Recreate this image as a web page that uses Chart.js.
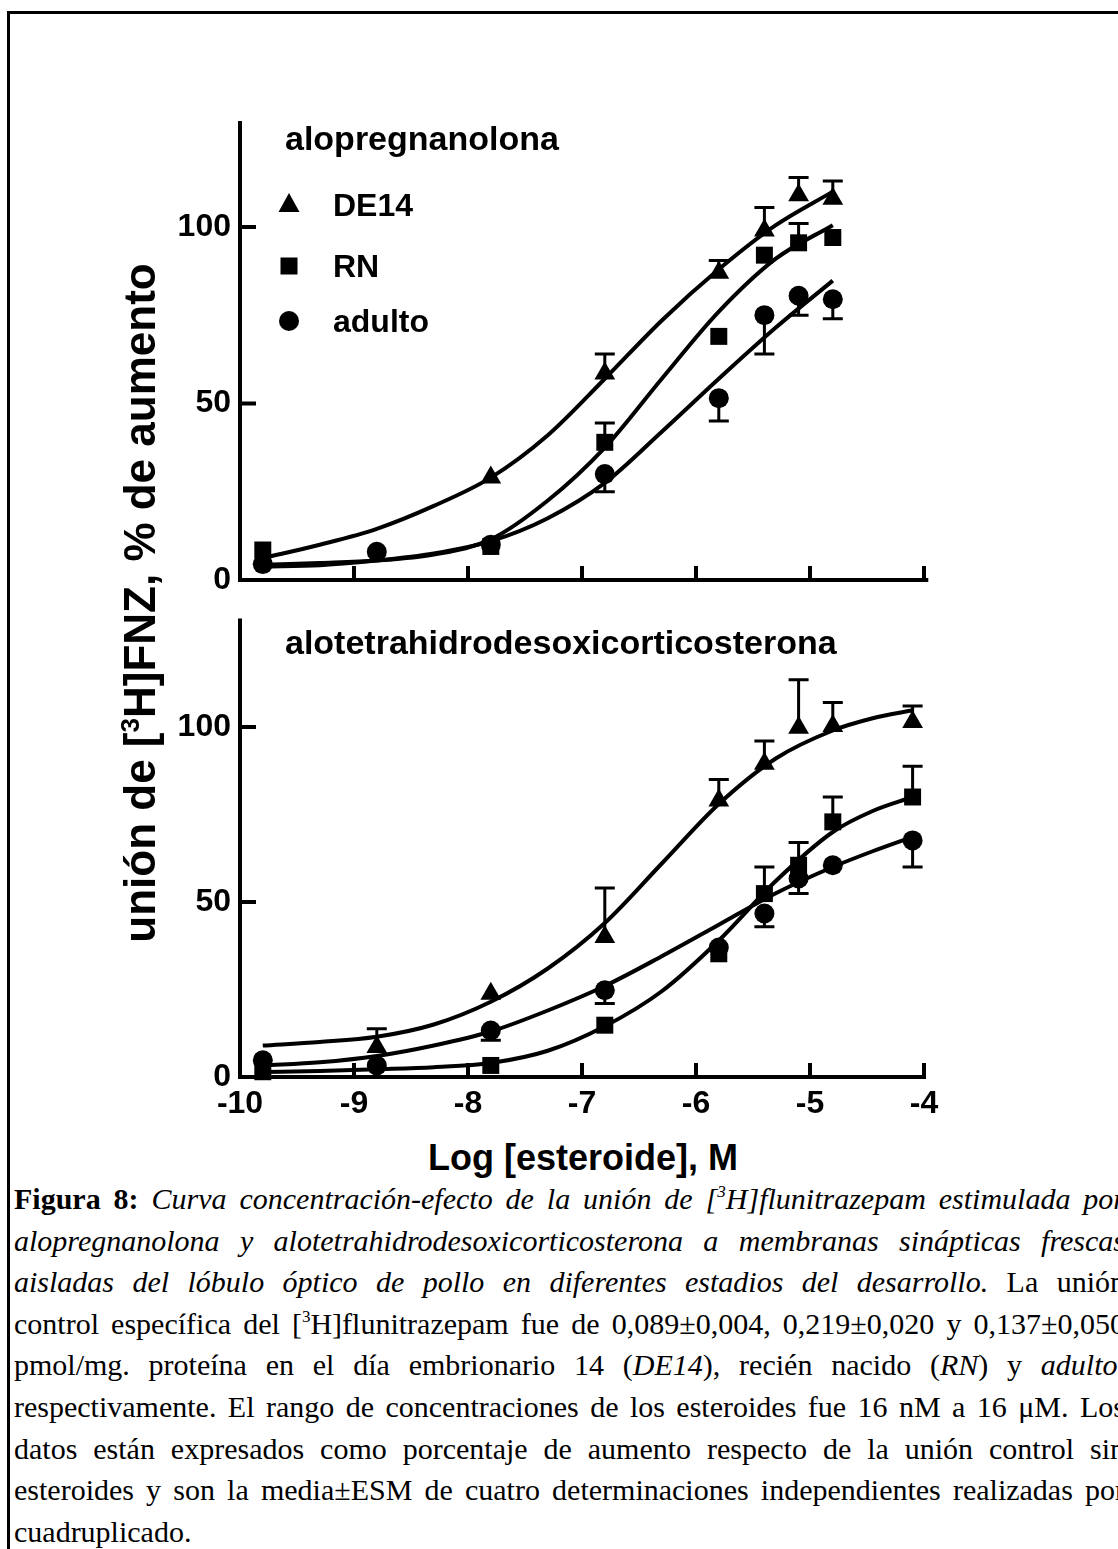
<!DOCTYPE html>
<html>
<head>
<meta charset="utf-8">
<script src="https://cdn.jsdelivr.net/npm/chart.js@4.4.0/dist/chart.umd.min.js"></script>
<style>
  html, body { margin: 0; padding: 0; background: #fff; }
  body { width: 1118px; height: 1549px; overflow: hidden; position: relative; font-family: "Liberation Sans", Arial, sans-serif; }
  #frame { position: absolute; left: 7px; top: 11px; width: 1300px; height: 1700px; border-left: 3px solid #000; border-top: 3px solid #000; }
  canvas { position: absolute; left: 100px; }
  #top { top: 90px; }
  #bot { top: 590px; }
  #ytitle { position: absolute; left: -260px; top: 578px; width: 800px; height: 50px; line-height: 50px; text-align: center;
            transform: rotate(-90deg); font-weight: bold; font-size: 44px; white-space: nowrap; }
  #ytitle sup { font-size: 26px; vertical-align: 16px; line-height: 0; }
  #xtitle { position: absolute; left: 283px; top: 1137px; width: 600px; text-align: center; font-weight: bold; font-size: 36px; }
  #caption { position: absolute; left: 14px; top: 1178px; width: 1111px; font-family: "Liberation Serif", "Times New Roman", serif; font-size: 30px; }
  #caption div { height: 41.6px; line-height: 41.6px; white-space: nowrap; text-align: justify; text-align-last: justify; }
  #caption div.last { text-align-last: left; }
  #caption sup { font-size: 17px; vertical-align: 12px; line-height: 0; }
</style>
</head>
<body>
<div id="frame"></div>
<canvas id="top" width="900" height="520"></canvas>
<canvas id="bot" width="900" height="540"></canvas>
<div id="ytitle">unión de [<sup>3</sup>H]FNZ, % de aumento</div>
<div id="xtitle">Log [esteroide], M</div>
<div id="caption">
  <div><b>Figura 8:</b> <i>Curva concentración-efecto de la unión de [<sup>3</sup>H]flunitrazepam estimulada por</i></div>
  <div><i>alopregnanolona y alotetrahidrodesoxicorticosterona a membranas sinápticas frescas</i></div>
  <div><i>aisladas del lóbulo óptico de pollo en diferentes estadios del desarrollo.</i> La unión</div>
  <div>control específica del [<sup>3</sup>H]flunitrazepam fue de 0,089±0,004, 0,219±0,020 y 0,137±0,050</div>
  <div>pmol/mg. proteína en el día embrionario 14 (<i>DE14</i>), recién nacido (<i>RN</i>) y <i>adulto</i>,</div>
  <div>respectivamente. El rango de concentraciones de los esteroides fue 16 nM a 16 μM. Los</div>
  <div>datos están expresados como porcentaje de aumento respecto de la unión control sin</div>
  <div>esteroides y son la media±ESM de cuatro determinaciones independientes realizadas por</div>
  <div class="last">cuadruplicado.</div>
</div>
<script>
// log concentration of the points
const xTop = [-9.8, -8.8, -7.8, -6.8, -5.8, -5.4, -5.1, -4.8];
const xBot = [-9.8, -8.8, -7.8, -6.8, -5.8, -5.4, -5.1, -4.8, -4.1];

// alopregnanolona (top panel)
const de14Top = [6, null, 29, 58.5, 87, 99, 109, 108];
const de14TopErr = [0, 0, 0, 5.5, 3.5, 6.5, 5, 5];
const rnTop = [8.5, null, 9.5, 39, 69, 92, 95.5, 97];
const rnTopErr = [0, 0, 0, 5.5, 0, 0, 5.5, 0];
const adTop = [4.5, 8, 10, 30, 51.5, 75, 80.5, 79.5];
const adTopErr = [0, 0, 0, 5, 6.5, 11, 5.5, 5.5];

// alotetrahidrodesoxicorticosterona (bottom panel)
const de14Bot = [null, 8.6, 23.8, 40, 79, 89.5, 99.8, 100.3, 101.4];
const de14BotErr = [0, 5.2, 0, 14, 6, 6.5, 13.7, 6.7, 4.6];
const rnBot = [1.5, null, 3.3, 14.8, 35.2, 52.4, 60.5, 72.9, 80];
const rnBotErr = [0, 0, 0, 0, 0, 7.6, 6.5, 7.1, 8.8];
const adBot = [4.8, 3.3, 13.3, 24.8, 37, 46.7, 56.7, 60.5, 67.6];
const adBotErr = [0, 0, 2.8, 3.8, 0, 3.8, 4.3, 0, 7.6];

// fitted curves
const xFitTop = [-9.8, -9.3, -8.8, -8.3, -7.8, -7.3, -6.8, -6.3, -5.8, -5.3, -4.8];
const de14TopFit = [6.2, 10, 14.5, 21, 29, 41, 57, 73.5, 88, 100.5, 110];
const rnTopFit = [4.3, 4.8, 5.5, 7.2, 11.5, 22.5, 37.5, 57, 76, 91, 100.5];
const adTopFit = [3.8, 4.2, 5.5, 7.5, 11, 17.5, 27.5, 42, 57, 71.5, 84.8];

const xFitBot = [-9.8, -9.3, -8.8, -8.3, -7.8, -7.3, -6.8, -6.3, -5.8, -5.3, -4.8, -4.45, -4.1];
const de14BotFit = [9, 10, 11.5, 15, 21.5, 31, 44, 61, 78, 91, 99, 102.5, 104.8];
const rnBotFit = [1.4, 1.7, 2.2, 2.8, 4, 7.5, 14.5, 24.5, 39, 56, 70, 76, 80];
const adBotFit = [3.3, 4.2, 6, 9, 13, 19, 26, 34.5, 43.5, 52.5, 60, 64.5, 68.6];

const yTicks = [0, 50, 100];
const xTicks = [-10, -9, -8, -7, -6, -5, -4];
const seriesNames = ['DE14', 'RN', 'adulto'];

Chart.defaults.font.family = '"Liberation Sans", Arial, sans-serif';
Chart.defaults.font.weight = 'bold';
Chart.defaults.color = '#000';

function pts(xs, ys) {
  return xs.map((x, i) => ({x: x, y: ys[i]})).filter(p => p.y != null);
}

function marker(ctx, style, x, y) {
  ctx.beginPath();
  if (style === 'triangle') {
    ctx.moveTo(x, y - 12); ctx.lineTo(x + 10.5, y + 7); ctx.lineTo(x - 10.5, y + 7); ctx.closePath();
  } else if (style === 'rect') {
    ctx.rect(x - 8.5, y - 8.5, 17, 17);
  } else {
    ctx.arc(x, y, 10, 0, Math.PI * 2);
  }
  ctx.fill();
}

const panelPlugin = {
  id: 'panel',
  afterDatasetsDraw(chart, args, opts) {
    const ctx = chart.ctx, x = chart.scales.x, y = chart.scales.y;
    ctx.save();
    ctx.strokeStyle = '#000';
    ctx.fillStyle = '#000';
    ctx.lineCap = 'butt';
    // error bars (one-sided)
    ctx.lineWidth = 3;
    opts.bars.forEach(b => {
      b.x.forEach((xv, i) => {
        const v = b.y[i], e = b.err[i];
        if (v == null || !e) return;
        const px = x.getPixelForValue(xv);
        const p0 = y.getPixelForValue(v);
        const p1 = y.getPixelForValue(v + b.dir * e);
        ctx.beginPath();
        ctx.moveTo(px, p0); ctx.lineTo(px, p1);
        ctx.moveTo(px - 10, p1); ctx.lineTo(px + 10, p1);
        ctx.stroke();
      });
    });
    // axes
    const x0 = x.getPixelForValue(-10), y0 = y.getPixelForValue(0);
    const yTop = y.getPixelForValue(y.max);
    const xEnd = x.getPixelForValue(opts.xEnd);
    ctx.lineWidth = 4;
    ctx.beginPath();
    ctx.moveTo(x0, yTop); ctx.lineTo(x0, y0 + 2);
    ctx.moveTo(x0 - 2, y0); ctx.lineTo(xEnd + 2, y0);
    yTicks.slice(1).forEach(v => {
      const py = y.getPixelForValue(v);
      ctx.moveTo(x0 - 2, py); ctx.lineTo(x0 + 16, py);
    });
    xTicks.slice(1).forEach(v => {
      const px = x.getPixelForValue(v);
      ctx.moveTo(px, y0); ctx.lineTo(px, y0 - 14);
    });
    ctx.stroke();
    // panel title
    ctx.font = 'bold 34px "Liberation Sans", Arial, sans-serif';
    ctx.textBaseline = 'alphabetic';
    ctx.fillText(opts.title, x0 + 45, opts.titleY);
    // legend
    if (opts.legend) {
      const styles = ['triangle', 'rect', 'circle'];
      const rows = [115, 176, 231];
      ctx.font = 'bold 32px "Liberation Sans", Arial, sans-serif';
      ctx.textBaseline = 'middle';
      seriesNames.forEach((n, i) => {
        marker(ctx, styles[i], x0 + 49, rows[i]);
        ctx.fillText(n, x0 + 93, rows[i] + 2);
      });
    }
    ctx.restore();
  }
};

function makePanel(id, xs, fitX, sets, opts) {
  const styles = ['triangle', 'rect', 'circle'];
  const radii = [12, 12, 10];
  const datasets = [];
  sets.forEach((s, i) => {
    datasets.push({
      label: seriesNames[i],
      data: pts(xs, s.y),
      pointStyle: styles[i],
      pointRadius: radii[i],
      pointBackgroundColor: '#000',
      pointBorderColor: '#000',
      pointBorderWidth: 0,
      showLine: false,
      clip: false,
      order: 0
    });
    datasets.push({
      label: seriesNames[i] + ' ajuste',
      data: pts(fitX, s.fit),
      showLine: true,
      pointRadius: 0,
      borderColor: '#000',
      borderWidth: 4,
      cubicInterpolationMode: 'monotone',
      clip: false,
      order: 1
    });
  });
  return new Chart(id, {
    type: 'scatter',
    data: {datasets: datasets},
    options: {
      responsive: false,
      animation: false,
      layout: {padding: {top: opts.padTop, right: 76, left: 0, bottom: 0}},
      plugins: {
        legend: {display: false},
        tooltip: {enabled: false},
        panel: {
          bars: sets.map(s => ({x: xs, y: s.y, err: s.err, dir: s.dir})),
          xEnd: opts.xEnd,
          title: opts.title,
          titleY: opts.titleY,
          legend: opts.legend
        }
      },
      scales: {
        x: {
          type: 'linear', min: -10, max: -4,
          afterBuildTicks: s => { s.ticks = xTicks.map(v => ({value: v})); },
          afterFit: s => { s.height = opts.xHeight; },
          grid: {display: false, drawTicks: false},
          border: {display: false},
          ticks: {display: opts.xLabels, padding: 8, font: {size: 32, weight: 'bold'}, color: '#000'}
        },
        y: {
          type: 'linear', min: 0, max: opts.yMax,
          afterBuildTicks: s => { s.ticks = yTicks.map(v => ({value: v})); },
          afterFit: s => { s.width = 140; },
          grid: {display: false, drawTicks: false},
          border: {display: false},
          ticks: {padding: 9, font: {size: 32, weight: 'bold'}, color: '#000'}
        }
      }
    },
    plugins: [panelPlugin]
  });
}

makePanel('top', xTop, xFitTop, [
  {y: de14Top, err: de14TopErr, dir: 1, fit: de14TopFit},
  {y: rnTop, err: rnTopErr, dir: 1, fit: rnTopFit},
  {y: adTop, err: adTopErr, dir: -1, fit: adTopFit}
], {padTop: 31, xHeight: 30, yMax: 130, xEnd: -3.98, xLabels: false,
    title: 'alopregnanolona', titleY: 60, legend: true});

makePanel('bot', xBot, xFitBot, [
  {y: de14Bot, err: de14BotErr, dir: 1, fit: de14BotFit},
  {y: rnBot, err: rnBotErr, dir: 1, fit: rnBotFit},
  {y: adBot, err: adBotErr, dir: -1, fit: adBotFit}
], {padTop: 28.5, xHeight: 53, yMax: 131, xEnd: -4, xLabels: true,
    title: 'alotetrahidrodesoxicorticosterona', titleY: 64, legend: false});
</script>
</body>
</html>
